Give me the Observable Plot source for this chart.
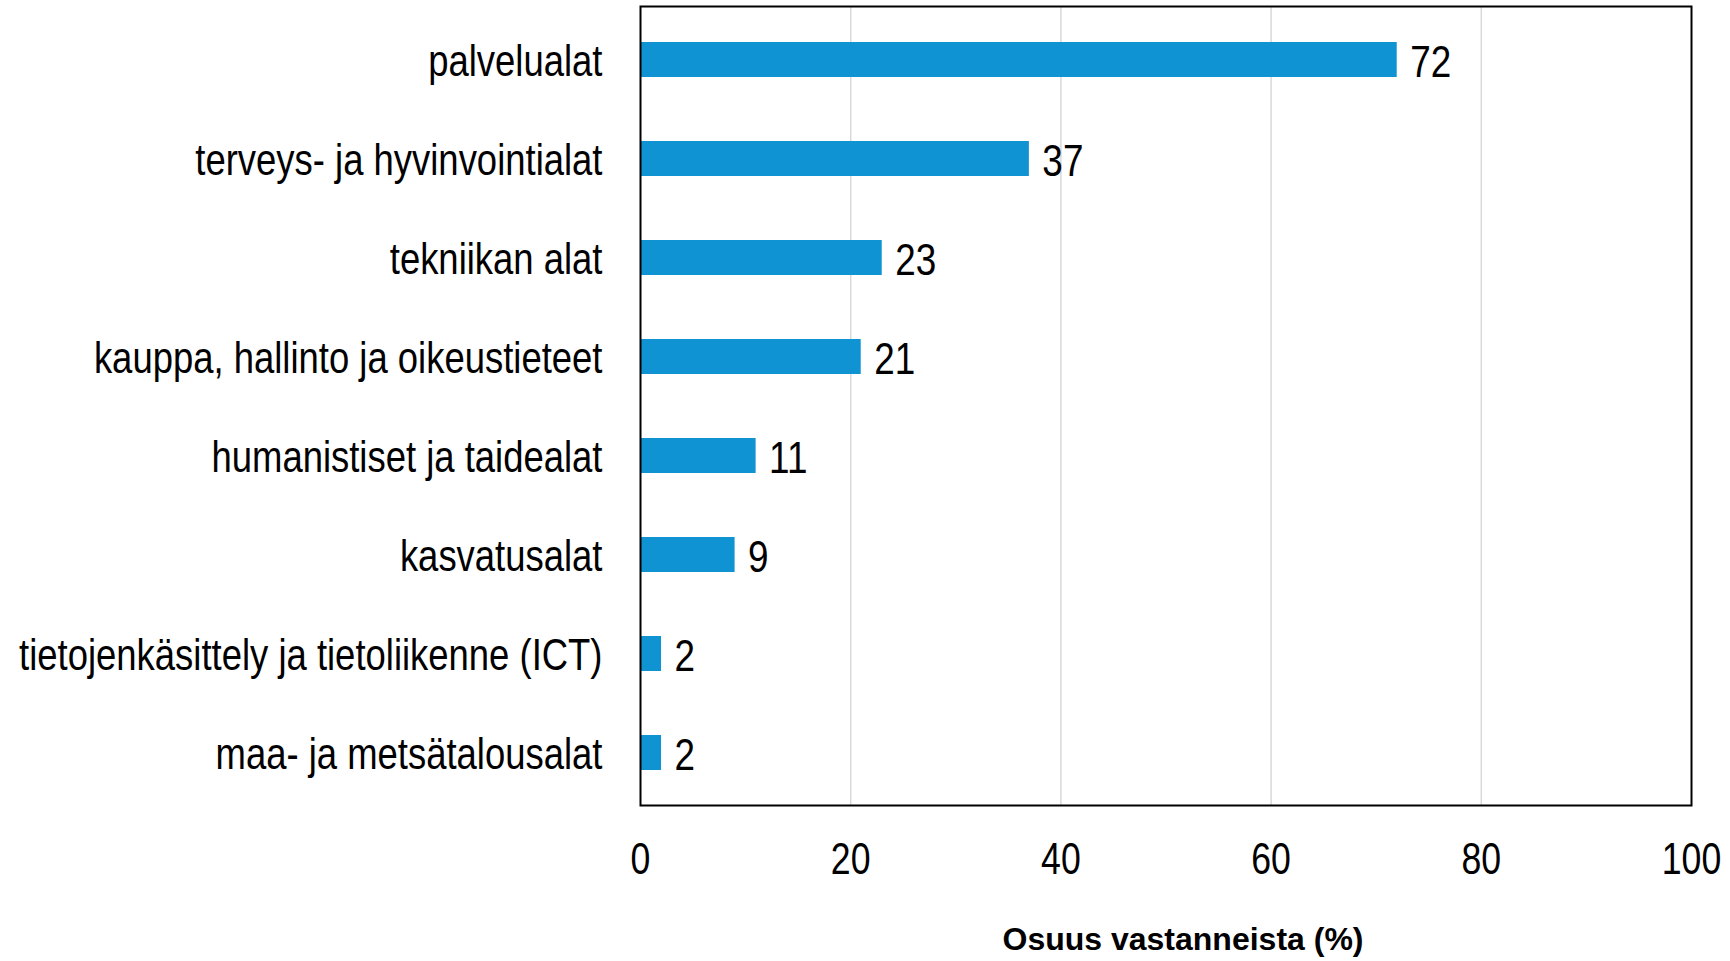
<!DOCTYPE html>
<html>
<head>
<meta charset="utf-8">
<script src="https://cdn.jsdelivr.net/npm/d3@7"></script>
<script src="https://cdn.jsdelivr.net/npm/@observablehq/plot@0.6"></script>
<style>
  html, body { margin: 0; padding: 0; background: #fff; }
  #chart svg { display: block; }
</style>
</head>
<body>
<div id="chart"></div>
<script>
const categories = [
  "palvelualat",
  "terveys- ja hyvinvointialat",
  "tekniikan alat",
  "kauppa, hallinto ja oikeustieteet",
  "humanistiset ja taidealat",
  "kasvatusalat",
  "tietojenkäsittely ja tietoliikenne (ICT)",
  "maa- ja metsätalousalat"
];
const values = [72, 37, 23, 21, 11, 9, 2, 2];
const xTicks = [0, 20, 40, 60, 80, 100];
const xTitle = "Osuus vastanneista (%)";

const data = categories.map((c, i) => ({category: c, value: values[i]}));
const font = "'Liberation Sans', Arial, sans-serif";

const chart = Plot.plot({
  width: 1730,
  height: 961,
  marginLeft: 640,
  marginRight: 39,
  marginTop: 6,
  marginBottom: 156,
  style: {fontFamily: font, fontSize: "44px", color: "#000", background: "#fff"},
  x: {domain: [0, 100], ticks: xTicks},
  y: {domain: categories, paddingInner: 0.65, paddingOuter: 0.325},
  marks: [
    Plot.gridX(xTicks.filter(t => t > 0 && t < 100), {stroke: "#d9d9d9", strokeOpacity: 1, strokeWidth: 1.5}),
    Plot.barX(data, {x: "value", y: "category", fill: "#1093d2"}),
    Plot.text(data, {x: "value", y: "category", text: d => String(d.value), textAnchor: "start", dx: 13, dy: 2.5, fontSize: 45, fill: "#000", className: "narrow82"}),
    Plot.frame({stroke: "#000", strokeWidth: 2}),
    Plot.axisX(xTicks, {tickSize: 0, tickPadding: 38, label: null, fontSize: 43.5, className: "narrow82"}),
    Plot.axisY({tickSize: 0, tickPadding: 38, label: null, fontSize: 43.5, dy: 2, className: "narrow84"}),
    Plot.text([xTitle], {frameAnchor: "bottom", dy: 144, dx: 17, fontFamily: font, fontWeight: "bold", fontSize: 32, fill: "#000"})
  ]
});

// Condense texts horizontally around their anchor points (emulating Arial Narrow)
function condense(selector, s) {
  d3.select(chart).selectAll(selector).each(function() {
    const t = d3.select(this);
    const x = +(t.attr("x") || 0);
    const tr = t.attr("transform") || "";
    t.attr("transform", `${tr} translate(${x},0) scale(${s},1) translate(${-x},0)`);
  });
}
condense(".narrow82 text", 0.82);
condense(".narrow84 text", 0.838);

document.getElementById("chart").appendChild(chart);
</script>
</body>
</html>
